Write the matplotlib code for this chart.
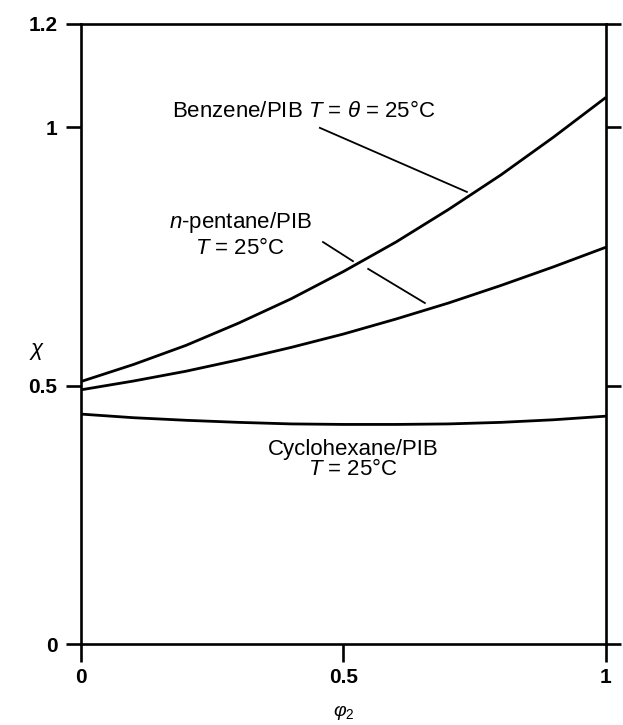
import matplotlib
matplotlib.use("Agg")
import matplotlib.pyplot as plt

plt.rcParams["font.family"] = ["Liberation Sans", "DejaVu Sans"]
plt.rcParams["mathtext.fontset"] = "custom"
plt.rcParams["mathtext.rm"] = "Liberation Sans"
plt.rcParams["mathtext.it"] = "Liberation Sans:italic"
plt.rcParams["mathtext.bf"] = "Liberation Sans:bold"

# volume fraction of polymer
phi2 = [0.0, 0.1, 0.2, 0.3, 0.4, 0.5, 0.6, 0.7, 0.8, 0.9, 1.0]
# interaction parameter chi
chi_benzene = [0.508, 0.541, 0.578, 0.621, 0.668, 0.721, 0.778, 0.841, 0.908, 0.981, 1.058]
chi_pentane = [0.492, 0.509, 0.528, 0.550, 0.574, 0.600, 0.629, 0.660, 0.694, 0.730, 0.768]
chi_cyclohex = [0.445, 0.438, 0.433, 0.429, 0.426, 0.425, 0.425, 0.426, 0.429, 0.434, 0.441]

xticks = [0, 0.5, 1]
xticklabels = ["0", "0.5", "1"]
yticks = [0, 0.5, 1, 1.2]
yticklabels = ["0", "0.5", "1", "1.2"]

fig = plt.figure(figsize=(6.23, 7.25), dpi=100)
ax = fig.add_axes([0.130, 0.1117, 0.8427, 0.8552])

lw = 2.0
ax.plot(phi2, chi_benzene, color="black", lw=lw, solid_capstyle="butt")
ax.plot(phi2, chi_pentane, color="black", lw=lw, solid_capstyle="butt")
ax.plot(phi2, chi_cyclohex, color="black", lw=lw, solid_capstyle="butt")

ax.set_xlim(0, 1)
ax.set_ylim(0, 1.2)

for s in ax.spines.values():
    s.set_linewidth(1.9)

ax.set_xticks(xticks)
ax.set_xticklabels(xticklabels)
ax.set_yticks(yticks)
ax.set_yticklabels(yticklabels)
ax.tick_params(axis="y", which="major", direction="out", length=11, width=1.9,
               labelsize=15, pad=6, right=True)
ax.tick_params(axis="x", which="major", direction="out", length=13, width=1.9,
               labelsize=15, pad=4)
for t in ax.get_yticklabels() + ax.get_xticklabels():
    t.set_fontweight("bold")

ax.set_xlabel(r"$\varphi_2$", fontsize=14)
ax.xaxis.set_label_coords(0.5, -0.095)
ax.set_ylabel(r"$\chi$", fontsize=16, rotation=0)
ax.yaxis.set_label_coords(-0.084, 0.455)

fs = 16
ax.text(0.173, 1.030, r"Benzene/PIB $T$ = $\theta$ = 25°C", fontsize=fs,
        ha="left", va="center")
ax.plot([0.455, 0.735], [0.999, 0.875], color="black", lw=1.3)

ax.text(0.303, 0.815, r"$n$-pentane/PIB", fontsize=fs, ha="center", va="center")
ax.text(0.303, 0.766, r"$T$ = 25°C", fontsize=fs, ha="center", va="center")
ax.plot([0.461, 0.518], [0.778, 0.741], color="black", lw=1.3)
ax.plot([0.547, 0.655], [0.726, 0.660], color="black", lw=1.3)

ax.text(0.518, 0.377, "Cyclohexane/PIB", fontsize=fs, ha="center", va="center")
ax.text(0.518, 0.338, r"$T$ = 25°C", fontsize=fs, ha="center", va="center")

fig.savefig("out.png", dpi=100)
